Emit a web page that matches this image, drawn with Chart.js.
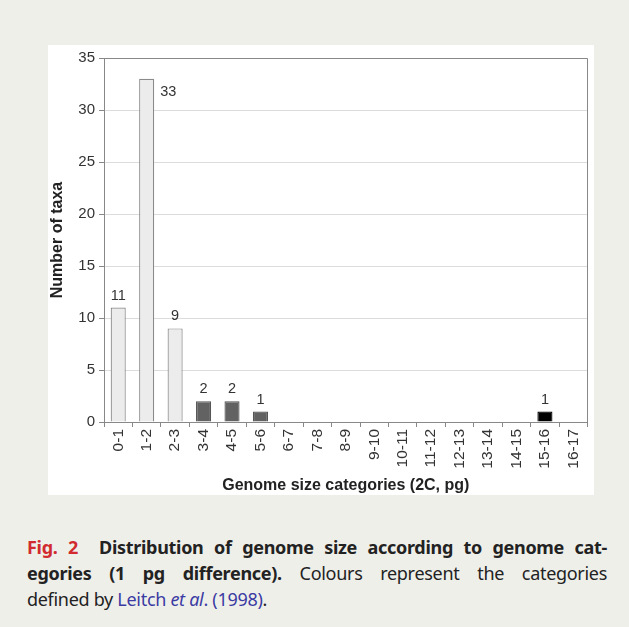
<!DOCTYPE html>
<html><head><meta charset="utf-8">
<script src="https://cdn.jsdelivr.net/npm/chart.js@4.4.0/dist/chart.umd.min.js"></script>
<style>
html,body{margin:0;padding:0;background:#efefea;width:629px;height:627px;overflow:hidden}
#box{position:absolute;left:48px;top:45px;width:546px;height:450px;background:#fff}
#cap{position:absolute;left:27px;top:534px;width:580px;font-family:"Noto Sans",sans-serif;font-size:18px;letter-spacing:-0.3px;color:#222;line-height:26px}
#cap div{white-space:nowrap;text-align:justify;text-align-last:justify}
#cap div.last{text-align-last:left}
.r{color:#d12a2f;font-weight:bold}.b{font-weight:bold}.bl{color:#3b3ba3}
</style></head><body>
<div id="box"><canvas id="c" width="546" height="450"></canvas></div>
<div id="cap">
<div><span class="r">Fig. 2</span>&nbsp; <span class="b">Distribution of genome size according to genome cat-</span></div>
<div><span class="b">egories (1 pg difference).</span> Colours represent the categories</div>
<div class="last">defined by <span class="bl">Leitch <i>et al</i>. (1998)</span>.</div>
</div>
<script>
const categories=["0-1","1-2","2-3","3-4","4-5","5-6","6-7","7-8","8-9","9-10","10-11","11-12","12-13","13-14","14-15","15-16","16-17"];
const counts=[11,33,9,2,2,1,0,0,0,0,0,0,0,0,0,1,0];
const groups=["low","low","low","mid","mid","mid","mid","mid","mid","mid","mid","mid","mid","mid","high","high","high"];
const fillByGroup={low:"#ececec",mid:"#626262",high:"#000000"};
const edgeByGroup={low:"#8a8a8a",mid:"#555555",high:"#000000"};
const yTicks=[0,5,10,15,20,25,30,35];
const FONT="'Liberation Sans', Arial, sans-serif";

const labelPlugin={id:"lbl",afterDatasetsDraw(chart){
  const ctx=chart.ctx;const meta=chart.getDatasetMeta(0);
  ctx.save();ctx.font="14.5px "+FONT;ctx.fillStyle="#333";ctx.textBaseline="alphabetic";
  const mx=Math.max(...counts);
  meta.data.forEach((bar,i)=>{const v=counts[i];if(!v)return;
    if(v===mx){ctx.textAlign="left";ctx.fillText(String(v),bar.x+bar.width/2+6,bar.y+17);}
    else{ctx.textAlign="center";ctx.fillText(String(v),bar.x,bar.y-8);}
  });
  ctx.restore();
}};
const framePlugin={id:"frame",afterDraw(chart){
  const a=chart.chartArea,ctx=chart.ctx;ctx.save();ctx.strokeStyle="#888";ctx.lineWidth=1;
  ctx.beginPath();ctx.moveTo(Math.round(a.left)+0.5,Math.round(a.top)+0.5);ctx.lineTo(Math.round(a.right)-0.5,Math.round(a.top)+0.5);ctx.lineTo(Math.round(a.right)-0.5,Math.round(a.bottom)+0.5);ctx.stroke();ctx.restore();
}};

new Chart(document.getElementById("c"),{
  type:"bar",
  data:{labels:categories,datasets:[{data:counts,
    backgroundColor:groups.map(g=>fillByGroup[g]),borderColor:groups.map(g=>edgeByGroup[g]),
    borderWidth:1.2,barPercentage:0.53,categoryPercentage:1}]},
  options:{responsive:false,animation:false,devicePixelRatio:1,
    layout:{padding:{top:6,right:1,left:0,bottom:0}},
    plugins:{legend:{display:false},tooltip:{enabled:false}},
    scales:{
      x:{grid:{offset:true,drawOnChartArea:false,tickLength:5,color:"#888"},
        border:{color:"#888"},
        ticks:{minRotation:90,maxRotation:90,color:"#333",font:{family:FONT,size:15.5},padding:2},
        title:{display:true,text:"Genome size categories (2C, pg)",color:"#222",font:{family:FONT,size:16,weight:"bold"},padding:{top:6,bottom:0}},
        afterFit(s){s.height=73;}},
      y:{min:0,max:35,afterBuildTicks(s){s.ticks=yTicks.map(v=>({value:v}));},
        grid:{color:(c)=>c.tick&&c.tick.value===0?"#888":"#dcdcdc",tickColor:"#888",tickLength:5},
        border:{color:"#888"},
        ticks:{color:"#333",font:{family:FONT,size:15},padding:4},
        title:{display:true,text:"Number of taxa",color:"#222",font:{family:FONT,size:16,weight:"bold"},padding:{top:0,bottom:3}},
        afterFit(s){s.width=56;}}
    }},
  plugins:[labelPlugin,framePlugin]
});
</script></body></html>
